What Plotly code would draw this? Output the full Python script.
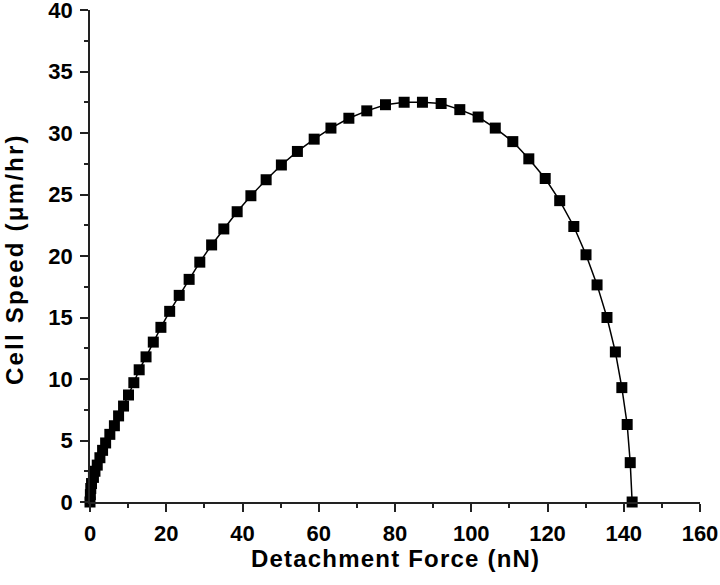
import plotly.graph_objects as go

force_nN = [0.0, 0.1, 0.2, 0.4, 0.9, 1.3, 1.9, 2.6, 3.3, 4.1, 5.2,
            6.4, 7.5, 8.8, 10.1, 11.5, 12.9, 14.7, 16.6, 18.6, 20.9,
            23.4, 26.0, 28.8, 31.9, 35.1, 38.6, 42.2, 46.2, 50.2, 54.4,
            58.8, 63.2, 67.9, 72.6, 77.5, 82.4, 87.2, 92.1, 97.0, 101.8,
            106.3, 110.9, 115.1, 119.4, 123.2, 126.9, 130.1, 133.0, 135.6, 137.8,
            139.5, 140.9, 141.7, 142.2]
speed_um_hr = [0.0, 0.6, 1.1, 1.5, 2.0, 2.5, 3.0, 3.6, 4.2, 4.8, 5.5,
               6.2, 7.0, 7.8, 8.7, 9.7, 10.75, 11.8, 13.0, 14.2, 15.5,
               16.8, 18.1, 19.5, 20.9, 22.2, 23.6, 24.9, 26.2, 27.4, 28.5,
               29.5, 30.4, 31.2, 31.8, 32.3, 32.5, 32.5, 32.4, 31.9, 31.3,
               30.4, 29.3, 27.9, 26.3, 24.5, 22.4, 20.1, 17.65, 15.0, 12.2,
               9.3, 6.3, 3.2, 0.0]

x_ticks = [0, 20, 40, 60, 80, 100, 120, 140, 160]
y_ticks = [0, 5, 10, 15, 20, 25, 30, 35, 40]

fig = go.Figure()
fig.add_trace(go.Scatter(
    x=force_nN, y=speed_um_hr, mode="lines+markers",
    line=dict(color="black", width=1.5),
    marker=dict(symbol="square", size=11, color="black"),
    cliponaxis=False, showlegend=False, hoverinfo="skip",
))

font_family = "Liberation Sans, Arial, sans-serif"
axis_common = dict(
    showgrid=False, zeroline=False, showline=True, linecolor="#222", linewidth=1.5,
    ticks="outside", ticklen=8, tickwidth=1.5, tickcolor="#222",
    tickfont=dict(family=font_family, size=22, color="black", weight=700),
    mirror=False, automargin=False, ticklabeloverflow="allow",
)

fig.update_layout(
    width=720, height=585,
    margin=dict(l=90, r=20, t=10, b=83),
    paper_bgcolor="white", plot_bgcolor="white",
    xaxis=dict(**axis_common, range=[0, 160], tickmode="array", tickvals=x_ticks,
               ticktext=[str(v) for v in x_ticks], ticklabelstandoff=3,
               minor=dict(ticks="outside", ticklen=4, tickwidth=1.5, tickcolor="#222", dtick=10)),
    yaxis=dict(**axis_common, range=[0, 40], tickmode="array", tickvals=y_ticks,
               ticktext=[str(v) for v in y_ticks], ticklabelstandoff=3,
               minor=dict(ticks="outside", ticklen=4, tickwidth=1.5, tickcolor="#222", dtick=2.5)),
    annotations=[
        dict(text='<span style="letter-spacing:1.2px"><b>Detachment Force (nN)</b></span>',
             xref="paper", yref="paper",
             x=0.5, y=0, yshift=-56, yanchor="middle", xanchor="center", showarrow=False,
             font=dict(family=font_family, size=24, color="black")),
        dict(text='<span style="letter-spacing:2.2px"><b>Cell Speed (μm/hr)</b></span>',
             xref="paper", yref="paper",
             x=0, y=0.5, yshift=-3, xshift=-76, xanchor="center", yanchor="middle",
             textangle=-90, showarrow=False,
             font=dict(family=font_family, size=24, color="black")),
    ],
)

# remove the browser's default 8px body margin so the figure fills the window
fig.write_html("out.html", config={"displayModeBar": False},
               post_script="document.body.style.margin='0';")
